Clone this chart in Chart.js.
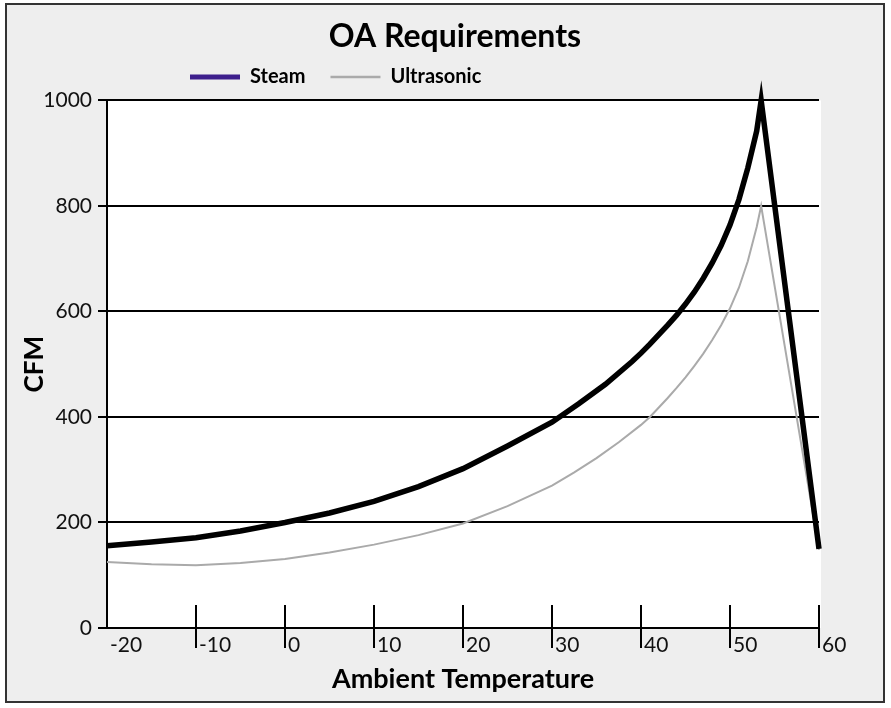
<!DOCTYPE html>
<html><head><meta charset="utf-8">
<script src="https://cdn.jsdelivr.net/npm/chart.js@4.4.0/dist/chart.umd.min.js"></script>
<style>
html,body{margin:0;padding:0;background:#fff;width:891px;height:708px;overflow:hidden}
#frame{position:absolute;left:5px;top:3px;width:876px;height:696px;border:2px solid #333;background:#eeeeee}
#wrap{position:absolute;left:0;top:0;width:891px;height:708px}
</style></head><body>
<div id="frame"></div>
<div id="wrap"><canvas id="c" width="891" height="708" style="width:891px;height:708px"></canvas></div>
<script>
// ---- data ----
const steamTemp = [-20,-15,-10,-5,0,5,10,15,20,25,30,33,36,39,40,41,42,43,44,45,46,47,48,49,50,51,52,53,53.5,60];
const steamCfm  = [156,163,171,184,200,218,240,268,302,345,390,425,462,505,521,538,556,574,593,614,637,663,692,725,764,812,872,942,1000,150];
const ultraTemp = [-20,-15,-10,-5,0,5,10,15,20,25,30,32.5,35,37.5,40,41,42,43,44,45,46,47,48,49,50,51,52,53,53.5,60];
const ultraCfm  = [125,121,119,123,131,143,158,176,198,231,270,295,322,352,385,400,418,436,455,475,497,520,546,574,606,645,695,760,800,148];
const xTickValues = [-20,-10,0,10,20,30,40,50,60];
const yTickValues = [0,200,400,600,800,1000];
const seriesNames = ['Steam','Ultrasonic'];

const FONT = 'Lato';

const plotBg = {
  id:'plotBg',
  beforeDraw(chart){
    const {ctx, chartArea:a} = chart;
    ctx.save(); ctx.fillStyle='#ffffff';
    ctx.fillRect(a.left, a.top, a.right-a.left+2, a.bottom-a.top);
    ctx.restore();
  }
};
const xTickMarks = {
  id:'xTickMarks',
  afterDatasetsDraw(chart){
    const s = chart.scales.x, ctx = chart.ctx, b = chart.chartArea.bottom;
    ctx.save(); ctx.strokeStyle='#000'; ctx.lineWidth=2;
    s.ticks.forEach((t,i)=>{
      if(i===0) return;
      const px = Math.round(s.getPixelForValue(t.value));
      ctx.beginPath(); ctx.moveTo(px, b-23); ctx.lineTo(px, b+20); ctx.stroke();
    });
    ctx.restore();
  }
};
const blockPlace = {
  id:'blockPlace',
  afterLayout(chart){
    const lg = chart.legend;
    lg.left = 165; lg.top = 42;
    const tb = chart.titleBlock;
    tb.left = 30; tb.right = 880;
  }
};

new Chart(document.getElementById('c'), {
  type:'line',
  data:{
    datasets:[
      {label:seriesNames[0], data:steamTemp.map((t,i)=>({x:t,y:steamCfm[i]})),
       borderColor:'#000', borderWidth:5.5, pointRadius:0, tension:0, borderJoinStyle:'miter', fill:false, clip:false},
      {label:seriesNames[1], data:ultraTemp.map((t,i)=>({x:t,y:ultraCfm[i]})),
       borderColor:'#aaaaaa', borderWidth:2, pointRadius:0, tension:0, borderJoinStyle:'miter', fill:false, clip:false}
    ]
  },
  options:{
    responsive:false, animation:false, devicePixelRatio:1,
    layout:{padding:{left:0,right:72,top:0,bottom:0}},
    plugins:{
      tooltip:{enabled:false},
      title:{display:true, text:'OA Requirements', color:'#000',
        font:{family:FONT,size:32,weight:'bold'}, padding:{top:17,bottom:5}},
      legend:{display:true, align:'start', maxHeight:40,
        labels:{usePointStyle:true, pointStyle:'line', pointStyleWidth:50, padding:25,
          color:'#000', font:{family:FONT,size:20,weight:'bold'},
          generateLabels(chart){
            const cols=['#3d1f8c','#aaaaaa'], widths=[5,2.5];
            return chart.data.datasets.map((d,i)=>({text:d.label, strokeStyle:cols[i], fillStyle:cols[i],
              lineWidth:widths[i], pointStyle:'line', hidden:false, datasetIndex:i, fontColor:'#000', lineCap:'butt'}));
          }}}
    },
    scales:{
      x:{type:'linear', min:-20, max:60,
        afterBuildTicks(s){ s.ticks = xTickValues.map(v=>({value:v})); },
        afterFit(s){ s.height = 80; },
        grid:{display:false},
        border:{display:true, color:'#000', width:2},
        ticks:{align:'start', labelOffset:3, padding:-3, color:'#111', font:{family:FONT,size:21}, maxRotation:0,
          callback:v=>String(v)},
        title:{display:true, text:'Ambient Temperature', color:'#000', font:{family:FONT,size:27,weight:'bold'}, padding:{top:0,bottom:13}}
      },
      y:{type:'linear', min:0, max:1000,
        afterBuildTicks(s){ s.ticks = yTickValues.map(v=>({value:v})); },
        afterFit(s){ s.width = 107; },
        grid:{display:true, color:'#000', lineWidth:2, tickLength:9, drawTicks:true},
        border:{display:true, color:'#000', width:2},
        ticks:{padding:6, color:'#111', font:{family:FONT,size:21}, callback:v=>String(v)},
        title:{display:true, text:'CFM', color:'#000', font:{family:FONT,size:26,weight:'bold'}, padding:{top:19,bottom:0}}
      }
    }
  },
  plugins:[plotBg, xTickMarks, blockPlace]
});
</script>
</body></html>
